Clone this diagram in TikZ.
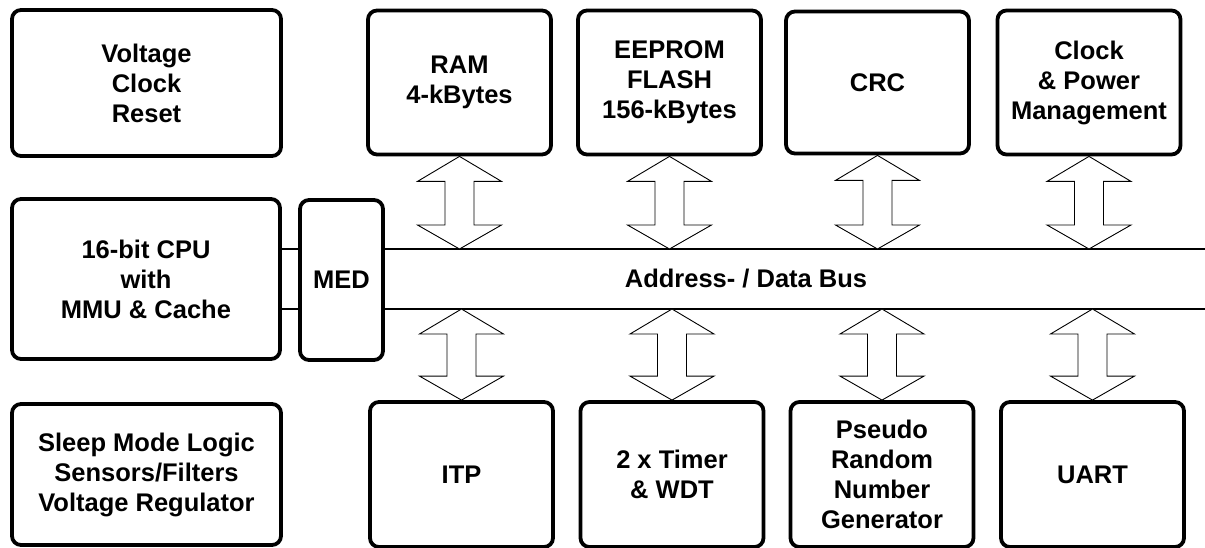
\documentclass[tikz,border=0pt]{standalone}
\usepackage{fontspec}
\setmainfont{Liberation Sans}
\usetikzlibrary{calc}
\tikzset{
  blk/.style={draw=black, line width=3.8pt, rounded corners=9pt, fill=white,
    align=center, inner sep=0pt,
    font=\fontsize{25.5}{30}\selectfont\bfseries},
  busline/.style={draw=black, line width=1.8pt},
  busarr/.style={draw=black, line width=0.9pt, fill=white, line join=miter},
  lbl/.style={font=\fontsize{25.5}{30}\selectfont\bfseries, inner sep=0pt}
}
\newcommand{\busarrow}[2]{%
  \draw[busarr] (#1)
    -- ($(#1)!25pt!(#2)+(42pt,0)$) -- ($(#1)!25pt!(#2)+(14.5pt,0)$)
    -- ($(#2)!24pt!(#1)+(14.5pt,0)$) -- ($(#2)!24pt!(#1)+(42pt,0)$)
    -- (#2)
    -- ($(#2)!24pt!(#1)+(-42pt,0)$) -- ($(#2)!24pt!(#1)+(-14.5pt,0)$)
    -- ($(#1)!25pt!(#2)+(-14.5pt,0)$) -- ($(#1)!25pt!(#2)+(-42pt,0)$)
    -- cycle;}
\begin{document}
\begin{tikzpicture}[x=1pt,y=-1pt]
\useasboundingbox (0,0) rectangle (1205,548);
% left column
\node[blk, minimum width=269pt, minimum height=146pt] (vcr) at (146.5,83) {Voltage\\Clock\\Reset};
\node[blk, minimum width=268pt, minimum height=160pt] (cpu) at (146,279) {16-bit CPU\\with\\MMU \& Cache};
\node[blk, minimum width=269pt, minimum height=141pt] (slp) at (146.5,474.5) {Sleep Mode Logic\\Sensors/Filters\\Voltage Regulator};
\node[blk, minimum width=83pt, minimum height=160pt] (med) at (341.5,280) {MED};
% top row
\node[blk, minimum width=183pt, minimum height=144pt] (ram) at (459.5,82.5) {RAM\\4-kBytes};
\node[blk, minimum width=183pt, minimum height=144pt] (eep) at (669.5,82.5) {EEPROM\\FLASH\\156-kBytes};
\node[blk, minimum width=183pt, minimum height=142pt] (crc) at (877.5,82.5) {CRC};
\node[blk, minimum width=183pt, minimum height=144pt] (clk) at (1089,82.5) {Clock\\\& Power\\Management};
% bottom row
\node[blk, minimum width=183pt, minimum height=145pt] (itp) at (461.5,474.5) {ITP};
\node[blk, minimum width=183pt, minimum height=145pt] (tmr) at (672,474.5) {2 x Timer\\\& WDT};
\node[blk, minimum width=183pt, minimum height=145pt] (prng) at (882,474.5) {Pseudo\\Random\\Number\\Generator};
\node[blk, minimum width=183pt, minimum height=145pt] (uart) at (1092.5,474.5) {UART};
% bus
\coordinate (busT) at (1205,249);
\coordinate (busB) at (1205,309);
\draw[busline] (med.east |- busT) -- (busT);
\draw[busline] (med.east |- busB) -- (busB);
\draw[busline] (cpu.east |- busT) -- (med.west |- busT);
\draw[busline] (cpu.east |- busB) -- (med.west |- busB);
\node[lbl] (buslbl) at (746,279) {Address- / Data Bus};
% arrows
\busarrow{ram.south}{ram.south |- busT}
\busarrow{eep.south}{eep.south |- busT}
\busarrow{crc.south}{crc.south |- busT}
\busarrow{clk.south}{clk.south |- busT}
\busarrow{itp.north |- busB}{itp.north}
\busarrow{tmr.north |- busB}{tmr.north}
\busarrow{prng.north |- busB}{prng.north}
\busarrow{uart.north |- busB}{uart.north}
\end{tikzpicture}
\end{document}
